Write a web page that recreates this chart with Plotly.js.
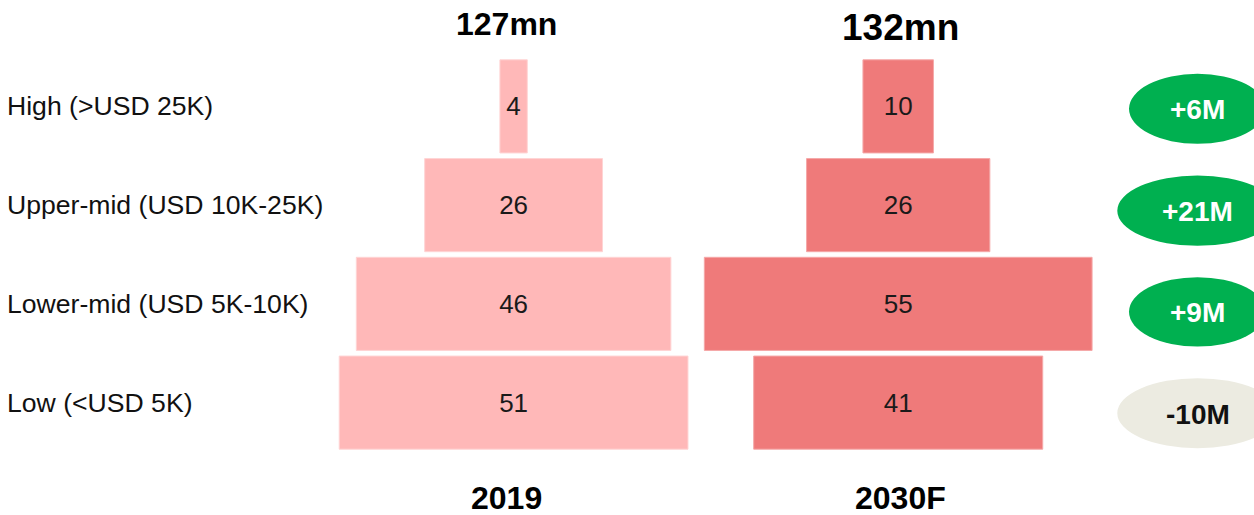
<!DOCTYPE html>
<html>
<head>
<meta charset="utf-8">
<script src="https://cdn.plot.ly/plotly-3.0.1.min.js"></script>
<style>html,body{margin:0;padding:0;background:#fff;}#chart{width:1254px;height:515px;}</style>
</head>
<body>
<div id="chart"></div>
<script>
const categories = ['High (>USD 25K)', 'Upper-mid (USD 10K-25K)', 'Lower-mid (USD 5K-10K)', 'Low (<USD 5K)'];
const values2019 = [4, 26, 46, 51];
const values2030 = [10, 26, 55, 41];
const changeLabels = ['+6M', '+21M', '+9M', '-10M'];
const totals = ['127mn', '132mn'];
const years = ['2019', '2030F'];

const W = 1254, H = 515, T = 57.2, B = 452.1;
const px = x => x / W;
const py = y => (B - y) / (B - T);
const esc = s => s.replace(/</g, '&lt;').replace(/>/g, '&gt;');
const FONT = 'Liberation Sans, Arial, sans-serif';

const common = {
  type: 'funnel', y: categories, textinfo: 'value', textposition: 'inside',
  insidetextanchor: 'middle', constraintext: 'none', connector: {visible: false},
  textfont: {family: FONT, size: 26, color: '#1a1a1a'}, hoverinfo: 'skip'
};
const traces = [
  Object.assign({}, common, {x: values2019, xaxis: 'x', yaxis: 'y',
    marker: {color: '#ffb8b8', line: {color: '#ffd4d4', width: 1}}}),
  Object.assign({}, common, {x: values2030, xaxis: 'x2', yaxis: 'y',
    marker: {color: '#ef7a7a', line: {color: '#f5a8a8', width: 1}}})
];

const ann = [];
const txt = (x, y, text, size, color, xanchor) => ({xref: 'paper', yref: 'paper', x: px(x), y: py(y),
  xanchor: xanchor || 'center', yanchor: 'middle', text: text, showarrow: false,
  font: {family: FONT, size: size, color: color}});
categories.forEach(c => ann.push({xref: 'paper', yref: 'y', x: px(5), y: c, xanchor: 'left', yanchor: 'middle',
  text: esc(c), showarrow: false, font: {family: FONT, size: 26.6, color: '#111'}}));
ann.push(txt(506, 24, '<b>' + totals[0] + '</b>', 32, '#000'));
ann.push(txt(900, 28, '<b>' + totals[1] + '</b>', 37, '#000'));
ann.push(txt(506, 498, '<b>' + years[0] + '</b>', 32, '#000'));
ann.push(txt(900, 498, '<b>' + years[1] + '</b>', 32, '#000'));

const ell = [
  {x0: 1129, x1: 1266, y0: 74, y1: 144},
  {x0: 1117.3, x1: 1277.7, y0: 175.7, y1: 246},
  {x0: 1129, x1: 1266, y0: 277.3, y1: 346.7},
  {x0: 1117.3, x1: 1277.7, y0: 378.3, y1: 448.3}
];
const shapes = [];
changeLabels.forEach((lab, i) => {
  const e = ell[i];
  const neg = lab.startsWith('-');
  shapes.push({type: 'circle', xref: 'paper', yref: 'paper', x0: px(e.x0), x1: px(e.x1), y0: py(e.y1), y1: py(e.y0),
    fillcolor: neg ? '#ecebe1' : '#00b050', line: {width: 0}, layer: 'above'});
  ann.push(txt(1197.5, (e.y0 + e.y1) / 2 + 1, '<b>' + lab + '</b>', 28, neg ? '#111' : '#fff'));
});

const layout = {
  width: W, height: H, margin: {l: 0, r: 0, t: T, b: H - B, pad: 0},
  paper_bgcolor: '#fff', plot_bgcolor: 'rgba(0,0,0,0)', showlegend: false,
  funnelgap: 0.057,
  xaxis: {domain: [335.8 / W, 691.4 / W], range: [-26, 26], visible: false, fixedrange: true},
  xaxis2: {domain: [700.8 / W, 1095.6 / W], range: [-28, 28], visible: false, anchor: 'y', fixedrange: true},
  yaxis: {visible: false, showgrid: false, zeroline: false, autorange: 'reversed', fixedrange: true},
  annotations: ann, shapes: shapes
};
Plotly.newPlot('chart', traces, layout, {displayModeBar: false, staticPlot: true});
</script>
</body>
</html>
